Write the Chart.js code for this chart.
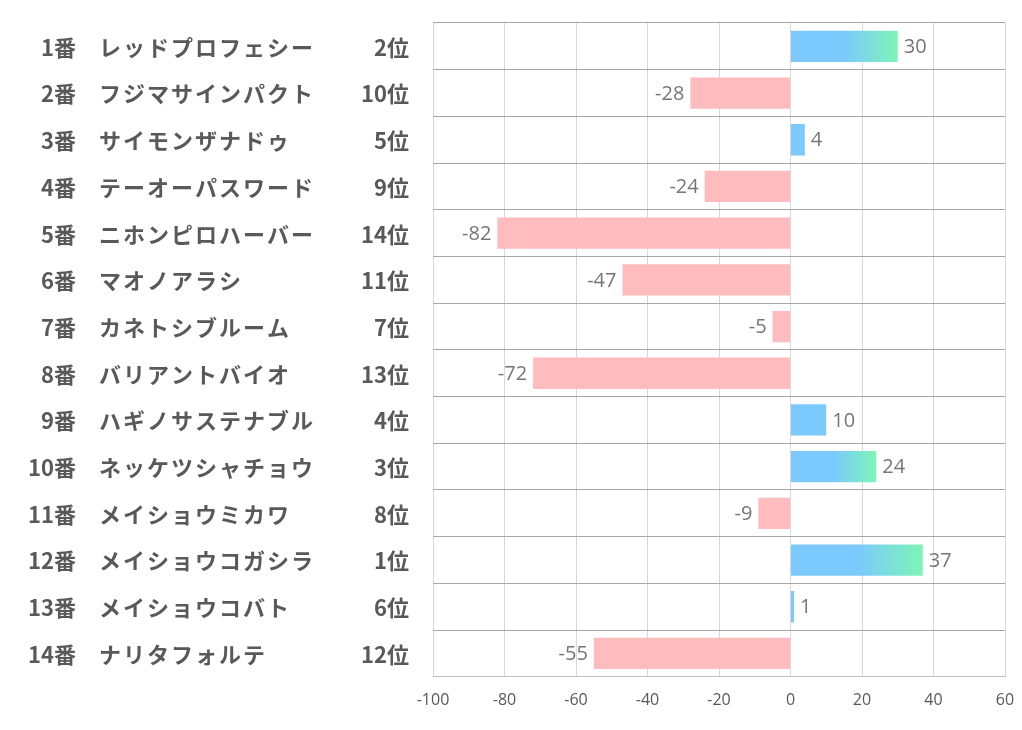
<!DOCTYPE html>
<html>
<head>
<meta charset="utf-8">
<script src="https://cdn.jsdelivr.net/npm/chart.js@4/dist/chart.umd.min.js"></script>
<style>
    html, body { margin: 0; padding: 0; background: #ffffff; }
    #wrap { width: 1022px; height: 730px; position: relative; }
</style>
</head>
<body>
<div id="wrap"><canvas id="chart"></canvas></div>
<script>
// Chart data
const horseNumbers = ['1番', '2番', '3番', '4番', '5番', '6番', '7番', '8番', '9番', '10番', '11番', '12番', '13番', '14番'];
const horseNames = [
    'レッドプロフェシー', 'フジマサインパクト', 'サイモンザナドゥ', 'テーオーパスワード',
    'ニホンピロハーバー', 'マオノアラシ', 'カネトシブルーム', 'バリアントバイオ',
    'ハギノサステナブル', 'ネッケツシャチョウ', 'メイショウミカワ', 'メイショウコガシラ',
    'メイショウコバト', 'ナリタフォルテ'
];
const rankLabels = ['2位', '10位', '5位', '9位', '14位', '11位', '7位', '13位', '4位', '3位', '8位', '1位', '6位', '12位'];
const ranks = [2, 10, 5, 9, 14, 11, 7, 13, 4, 3, 8, 1, 6, 12];
const scores = [30, -28, 4, -24, -82, -47, -5, -72, 10, 24, -9, 37, 1, -55];

const xMin = -100;
const xMax = 60;
const xStep = 20;

const BLUE = '#7bc9fd';
const GREEN = '#7ef5b6';
const PINK = '#ffbcbe';
const TEXT_GRAY = '#595959';
const LABEL_GRAY = '#767676';
const JP_FONT = '"Noto Sans CJK JP", "Noto Sans", sans-serif';

/**
 * Bar colour: pink for negatives, blue for positives,
 * blue -> green gradient for the top 3 ranked horses
 */
function barColor(context) {
    const i = context.dataIndex;
    const v = scores[i];
    if (v < 0) return PINK;
    if (ranks[i] > 3) return BLUE;
    const chart = context.chart;
    const xScale = chart.scales.x;
    if (!chart.chartArea || !xScale) return BLUE;
    const x0 = xScale.getPixelForValue(0);
    const x1 = xScale.getPixelForValue(v);
    const g = chart.ctx.createLinearGradient(x0, 0, x1, 0);
    g.addColorStop(0, BLUE);
    g.addColorStop(0.5, BLUE);
    g.addColorStop(1, GREEN);
    return g;
}

// Draw horse number, name and rank on the left side
const rowLabelsPlugin = {
    id: 'rowLabels',
    afterDraw(chart) {
        const ctx = chart.ctx;
        const yScale = chart.scales.y;
        ctx.save();
        ctx.fillStyle = TEXT_GRAY;
        ctx.font = 'bold 22px ' + JP_FONT;
        ctx.textBaseline = 'middle';
        horseNumbers.forEach((num, i) => {
            const y = yScale.getPixelForValue(i) + 1;
            ctx.letterSpacing = '0px';
            ctx.textAlign = 'right';
            ctx.fillText(num, 76, y);
            ctx.textAlign = 'right';
            ctx.fillText(rankLabels[i], 409, y);
            ctx.letterSpacing = '2px';
            ctx.textAlign = 'left';
            ctx.fillText(horseNames[i], 99, y);
        });
        ctx.restore();
    }
};

// Value labels at the end of each bar
const valueLabelsPlugin = {
    id: 'valueLabels',
    afterDatasetsDraw(chart) {
        const ctx = chart.ctx;
        const meta = chart.getDatasetMeta(0);
        ctx.save();
        ctx.fillStyle = LABEL_GRAY;
        ctx.font = '20px "Open Sans", "Noto Sans", sans-serif';
        ctx.textBaseline = 'middle';
        meta.data.forEach((bar, i) => {
            const v = scores[i];
            if (v >= 0) {
                ctx.textAlign = 'left';
                ctx.fillText(String(v), bar.x + 6, bar.y + 1);
            } else {
                ctx.textAlign = 'right';
                ctx.fillText(String(v), bar.x - 6, bar.y + 1);
            }
        });
        ctx.restore();
    }
};

new Chart(document.getElementById('chart'), {
    type: 'bar',
    data: {
        labels: horseNames,
        datasets: [{
            data: scores,
            backgroundColor: barColor,
            borderWidth: 0,
            barPercentage: 0.67,
            categoryPercentage: 1.0
        }]
    },
    options: {
        indexAxis: 'y',
        responsive: true,
        maintainAspectRatio: false,
        animation: false,
        layout: {
            padding: { left: 433, right: 17, top: 23, bottom: 20 }
        },
        plugins: {
            legend: { display: false },
            tooltip: { enabled: false }
        },
        scales: {
            x: {
                min: xMin,
                max: xMax,
                ticks: {
                    stepSize: xStep,
                    color: TEXT_GRAY,
                    font: { size: 16, family: '"Open Sans", "Noto Sans", sans-serif' },
                    padding: 0
                },
                grid: {
                    color: '#d9d9d9',
                    lineWidth: 1,
                    drawTicks: true,
                    tickLength: 14,
                    tickColor: 'rgba(0,0,0,0)'
                },
                border: { display: true, color: '#bfbfbf' }
            },
            y: {
                ticks: { display: false },
                grid: {
                    color: '#a6a6a6',
                    lineWidth: 1,
                    drawTicks: false,
                    offset: true
                },
                border: { display: false }
            }
        }
    },
    plugins: [rowLabelsPlugin, valueLabelsPlugin]
});
</script>
</body>
</html>
